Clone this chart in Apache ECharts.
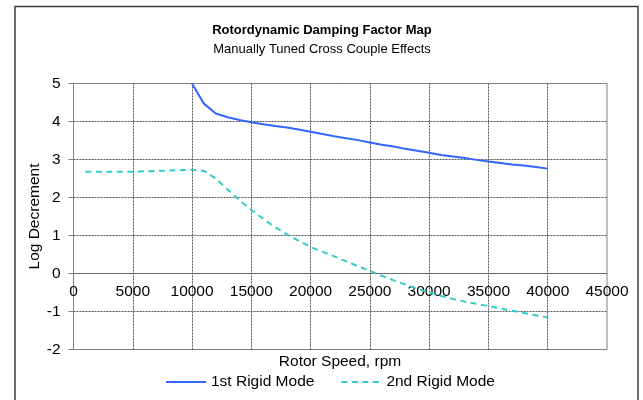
<!DOCTYPE html>
<html>
<head>
<meta charset="utf-8">
<script src="https://cdn.jsdelivr.net/npm/echarts@6/dist/echarts.min.js"></script>
<style>
  html, body { margin: 0; padding: 0; background: #fff; }
  #chart { width: 643px; height: 400px; }
</style>
</head>
<body>
<div id="chart"></div>
<script>
// Rotor speed samples (rpm) and log decrement for each rigid-body mode
var speedsMode1 = [10000, 11000, 12000, 13000, 14000, 15000, 16000, 17000, 18000, 19000,
                   20000, 21000, 22000, 23000, 24000, 25000, 26000, 27000, 28000, 29000,
                   30000, 31000, 32000, 33000, 34000, 35000, 36000, 37000, 38000, 39000, 40000];
var logDecMode1 = [5.00, 4.47, 4.21, 4.11, 4.04, 3.98, 3.93, 3.88, 3.84, 3.79,
                   3.73, 3.67, 3.61, 3.56, 3.51, 3.45, 3.39, 3.34, 3.28, 3.23,
                   3.18, 3.12, 3.08, 3.04, 2.99, 2.95, 2.91, 2.87, 2.84, 2.80, 2.76];

var speedsMode2 = [1000, 2000, 3000, 4000, 5000, 6000, 7000, 8000, 9000, 10000,
                   11000, 12000, 13000, 14000, 15000, 16000, 17000, 18000, 19000, 20000,
                   21000, 22000, 23000, 24000, 25000, 26000, 27000, 28000, 29000, 30000,
                   31000, 32000, 33000, 34000, 35000, 36000, 37000, 38000, 39000, 40000];
var logDecMode2 = [2.68, 2.68, 2.68, 2.68, 2.68, 2.69, 2.70, 2.71, 2.72, 2.73,
                   2.70, 2.50, 2.21, 1.93, 1.67, 1.44, 1.22, 1.03, 0.86, 0.70,
                   0.57, 0.45, 0.32, 0.19, 0.07, -0.06, -0.18, -0.29, -0.40, -0.50,
                   -0.59, -0.67, -0.74, -0.80, -0.86, -0.92, -0.98, -1.04, -1.10, -1.16];

var seriesNames = ['1st Rigid Mode', '2nd Rigid Mode'];
var chartTitle = 'Rotordynamic Damping Factor Map';
var chartSubtitle = 'Manually Tuned Cross Couple Effects';
var xAxisTitle = 'Rotor Speed, rpm';
var yAxisTitle = 'Log Decrement';

// Axis ranges
var xMin = 0, xMax = 45000, xStep = 5000;
var yMin = -2, yMax = 5, yStep = 1;

function pairs(xs, ys) {
  return xs.map(function (x, i) { return [x, ys[i]]; });
}

var FONT = "'Liberation Sans', Arial, sans-serif";
var gridTop = 83.5, gridBottom = 50.5, chartHeight = 400;
var plotHeight = chartHeight - gridTop - gridBottom;
// lift the speed axis from the bottom edge up to the y = 0 line
var zeroLift = -plotHeight * (0 - yMin) / (yMax - yMin);

var chart = echarts.init(document.getElementById('chart'), null, { renderer: 'canvas' });

chart.setOption({
  backgroundColor: '#ffffff',
  animation: false,
  textStyle: { fontFamily: FONT, color: '#000' },
  grid: {
    left: 73.5, top: gridTop, right: 36, bottom: gridBottom,
    show: true, borderColor: '#808080', borderWidth: 1, backgroundColor: 'transparent'
  },
  graphic: [
    {
      type: 'rect', silent: true, z: -1,
      shape: { x: 15, y: 6.5, width: 623, height: 400 },
      style: { fill: 'none', stroke: '#3a3a3a', lineWidth: 1.5 }
    },
    {
      type: 'text', x: 322, y: 30,
      style: { text: chartTitle, fontFamily: FONT, fontSize: 13, fontWeight: 'bold',
               fill: '#000', textAlign: 'center', textVerticalAlign: 'middle' }
    },
    {
      type: 'text', x: 322, y: 49,
      style: { text: chartSubtitle, fontFamily: FONT, fontSize: 13,
               fill: '#000', textAlign: 'center', textVerticalAlign: 'middle' }
    },
    {
      type: 'text', x: 340, y: 362,
      style: { text: xAxisTitle, fontFamily: FONT, fontSize: 15.5,
               fill: '#000', textAlign: 'center', textVerticalAlign: 'middle' }
    }
  ],
  legend: {
    left: 165, top: 374, padding: 0,
    itemWidth: 40, itemHeight: 14, itemGap: 26,
    itemStyle: { opacity: 0 },
    textStyle: { fontFamily: FONT, fontSize: 15.5, color: '#000' },
    data: seriesNames
  },
  xAxis: {
    type: 'value', min: xMin, max: xMax, interval: xStep,
    offset: zeroLift,
    axisLine: { show: true, onZero: false, lineStyle: { color: '#666', width: 1 } },
    axisTick: { show: false },
    axisLabel: { fontFamily: FONT, fontSize: 15.5, color: '#000', margin: 10,
                 formatter: function (v) { return String(v); } },
    splitLine: { show: true, showMinLine: false, showMaxLine: false,
                 lineStyle: { color: '#555', width: 1, type: [2, 1] } }
  },
  yAxis: {
    type: 'value', min: yMin, max: yMax, interval: yStep,
    name: yAxisTitle, nameLocation: 'middle', nameGap: 31, nameMoveOverlap: false,
    nameTextStyle: { fontFamily: FONT, fontSize: 15.5, color: '#000' },
    axisLine: { show: true, lineStyle: { color: '#808080', width: 1 } },
    axisTick: { show: true, inside: false, length: 5, lineStyle: { color: '#808080' } },
    axisLabel: { fontFamily: FONT, fontSize: 15.5, color: '#000', margin: 13 },
    splitLine: { show: true, showMinLine: false, showMaxLine: false,
                 lineStyle: { color: '#555', width: 1, type: [2, 1] } }
  },
  series: [
    {
      name: seriesNames[0], type: 'line', symbol: 'none', smooth: false,
      data: pairs(speedsMode1, logDecMode1),
      lineStyle: { color: '#3366ff', width: 2 },
      itemStyle: { color: '#3366ff' }
    },
    {
      name: seriesNames[1], type: 'line', symbol: 'none', smooth: false,
      data: pairs(speedsMode2, logDecMode2),
      lineStyle: { color: '#33cccc', width: 2, type: [6, 4.5] },
      itemStyle: { color: '#33cccc' }
    }
  ]
});
</script>
</body>
</html>
